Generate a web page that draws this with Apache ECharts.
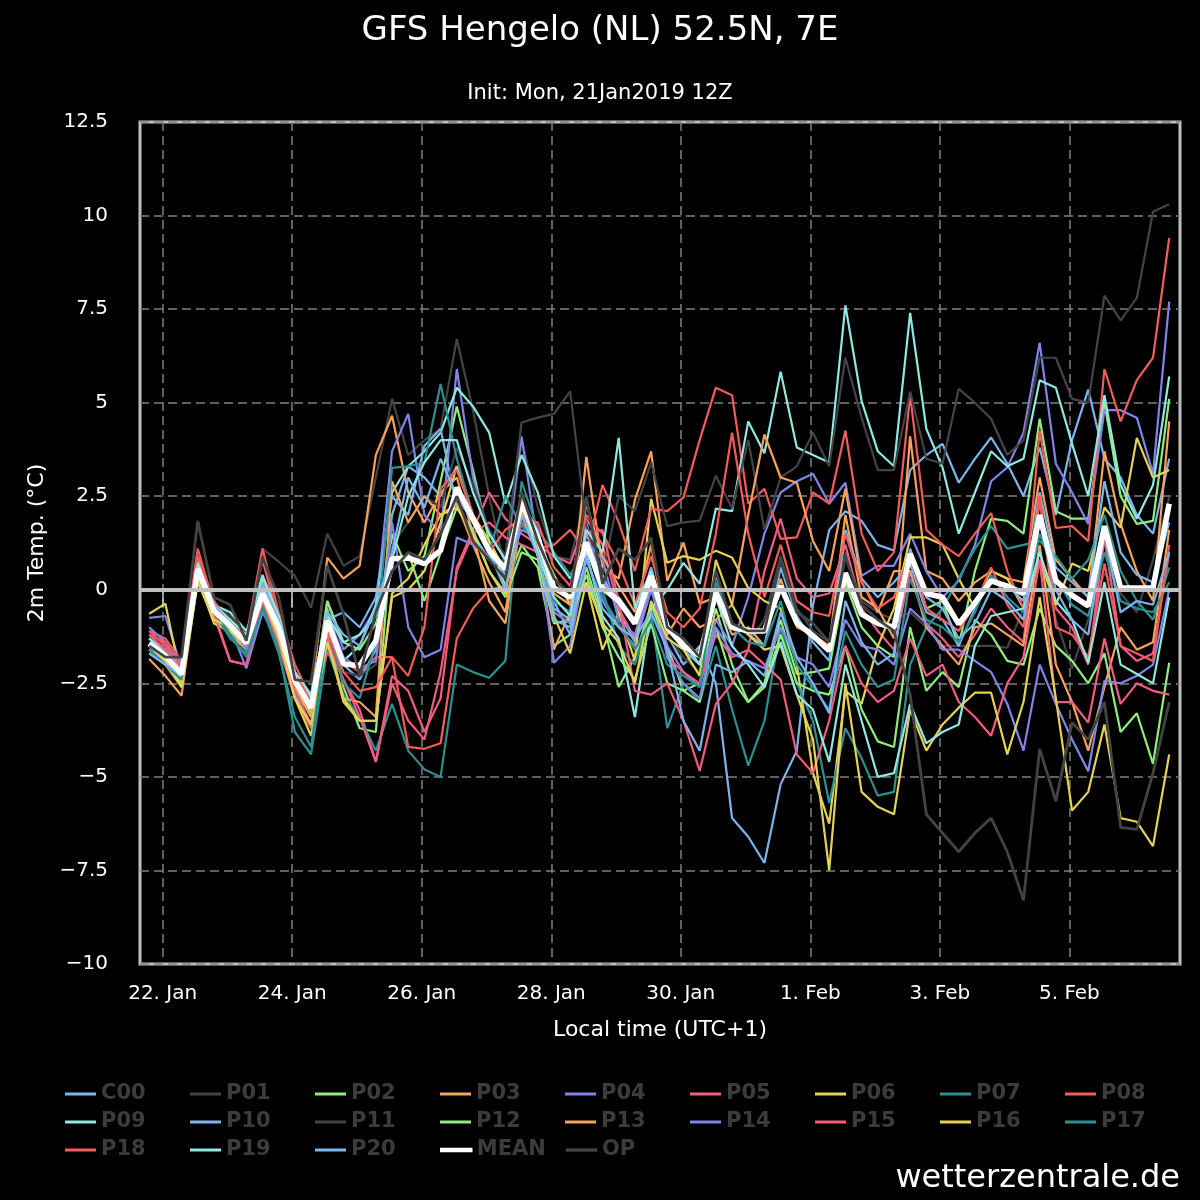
<!DOCTYPE html>
<html><head><meta charset="utf-8">
<script src="https://cdn.jsdelivr.net/npm/echarts@6/dist/echarts.min.js"></script>
<style>html,body{margin:0;background:#000;}#c{width:1200px;height:1200px;}</style>
</head><body><div id="c"></div>
<script>
// time: hours relative to 22 Jan 00:00 local (UTC+1); 6-hourly from 21 Jan 19:00
const startHour = -5;
const stepHours = 6;
const tickHours = [0, 48, 96, 144, 192, 240, 288, 336];
const tickLabels = ['22. Jan', '24. Jan', '26. Jan', '28. Jan', '30. Jan', '1. Feb', '3. Feb', '5. Feb'];

const C00 = [-1.5,-1.9,-2.4,0.4,-0.5,-0.9,-1.3,-0.3,-1.2,-2.8,-3.6,-0.9,-2.0,-2.4,-1.6, 2.0,3.3,3.0,2.5,3.3,2.0,1.0,0.4, 2.2,1.2,-0.5,-0.8,1.5,0.4,-0.6,-1.4,0.2, -1.2,-2.0,-1.5,-2.5,-6.1,-6.6,-7.3,-5.2,-4.3,-0.4,1.6,2.1,1.84,1.2,1.05, 3.2,3.6,3.9,2.86,3.5,4.07,3.37,2.5,3.8,2.0,4.0,5.35,3.5,3.0,2.0,1.5,3.5];
const P01 = [-1.2,-1.6,-2.0,0.9,-0.4,-0.7,-1.2,1.1,0.75,0.37,-0.48,1.5,0.64,0.9,3.0, 5.1,3.6,4.0,4.3,6.7,4.8,2.5,0.5, 4.0,2.2,0.9,0.8,2.5,0.2,1.1,0.8,1.4, -1.2,-1.8,-2.2,0.2,-1.0,-1.4,-0.8,0.9,-0.5,-1.1,-1.4,1.0,-0.3,-0.6,-0.8, -0.6,-1.0,-1.5,-1.5,-1.5,-1.5,-1.55,-0.5,0.7,-0.8,-2.1,-0.8,0.45,-0.1,-0.6,0.8,2.47];
const P02 = [-1.6,-2.0,-2.5,0.5,-0.7,-1.1,-1.6,0.3,-0.9,-2.6,-3.4,-0.5,-2.6,-3.7,-3.8, 1.5,0.5,0.9,2.9,4.9,3.2,1.3,0.1, 1.2,0.6,-1.5,-1.2,0.6,-0.8,-2.6,-1.8,-0.4, -1.5,-2.7,-2.5,-0.5,-2.0,-3.0,-2.5,-0.8,-2.25,-2.2,-2.1,0.2,-1.0,-1.5,-1.8, 1.0,-0.5,-0.3,-1.5,0.5,1.9,1.84,1.5,4.57,2.1,1.9,1.9,5.0,2.5,1.76,1.84,5.1];
const P03 = [-1.85,-2.3,-2.83,0.3,-0.8,-1.2,-1.6,-0.4,-1.3,-2.2,-2.9,0.86,0.3,0.64,3.6, 4.65,2.6,1.8,2.6,3.0,1.5,-0.3,-0.9, 2.0,1.0,-1.6,-0.6,3.55,0.6,0.3,2.4,3.7, 0.24,1.26,-0.37,-0.2,-1.2,-1.0,-1.5,0.3,-1.0,-1.2,-1.5,2.0,-0.2,-0.5,-1.3, 4.1,0.5,0.3,-0.3,0.2,0.5,0.3,0.2,3.0,0.8,0.3,-0.2,3.7,1.76,0.5,-0.3,4.5];
const P04 = [-0.75,-0.7,-2.1,0.5,-0.3,-1.0,-2.1,-0.6,-1.4,-2.8,-3.3,-0.3,-1.6,-1.2,-0.5, 3.7,4.7,2.0,1.5,5.9,3.0,1.5,0.8, 4.1,1.2,-1.95,-1.5,0.8,-0.3,-1.0,-1.5,0.0, -1.5,-2.2,-2.6,-0.8,-1.5,-0.2,1.5,2.6,2.9,3.1,2.3,2.86,0.37,0.64,0.64, 1.5,0.5,-0.2,0.24,1.2,2.9,3.27,4.2,6.6,3.37,2.6,1.76,4.8,4.8,4.6,3.1,7.7];
const P05 = [-1.1,-1.5,-2.0,0.7,-0.7,-1.9,-2.0,-0.2,-1.5,-2.9,-3.7,-1.5,-2.4,-3.2,-4.6, -2.3,-2.7,-3.8,-2.9,0.6,1.6,2.6,1.9, 1.5,1.2,0.9,0.7,1.9,1.2,-0.5,-1.3,0.4, -1.8,-2.2,-2.5,-1.2,-1.8,-1.6,0.5,1.9,0.3,-0.2,-0.1,1.2,-0.5,-1.1,-1.6, 0.5,-0.9,-1.3,-1.8,-1.2,-0.5,-1.0,-1.4,2.4,-0.5,-1.0,-2.0,1.4,-1.5,-1.9,-1.7,1.0];
const P06 = [-0.64,-0.37,-2.43,0.3,-0.9,-1.1,-1.5,-0.2,-1.1,-2.9,-3.9,-1.3,-3.0,-3.5,-3.5, -0.2,0.0,0.5,1.8,3.3,2.0,1.3,0.5, 2.5,1.3,0.4,-0.4,0.2,-1.6,-0.6,-1.9,2.43, 0.72,0.9,0.8,1.04,0.86,0.05,-0.3,-0.5,-2.0,-4.9,-6.25,-2.7,-3.05,-1.5,-0.5, 1.4,1.4,1.2,0.3,-0.5,0.5,0.3,-0.5,0.8,-0.4,0.7,0.5,2.2,1.66,4.06,3.0,3.2];
const P07 = [-1.4,-1.8,-2.3,0.5,-0.6,-1.3,-1.7,-0.4,-1.6,-3.8,-4.4,-1.6,-2.8,-3.4,-4.3, -3.05,-4.3,-4.8,-5.0,-2.0,-2.2,-2.35,-1.9, 2.9,1.6,1.0,0.4,1.1,0.0,-1.5,-2.0,-0.6, -3.7,-2.5,-3.0,-1.5,-3.2,-4.7,-3.5,-1.0,-2.5,-3.5,-5.7,-3.7,-4.5,-5.5,-5.4, -2.0,-1.0,-0.5,0.3,1.1,1.7,1.1,1.2,1.3,0.9,0.3,0.8,2.0,0.5,-0.3,-0.8,0.6];
const P08 = [-1.1,-1.3,-1.9,1.1,-0.4,-0.8,-1.3,1.1,-0.6,-2.0,-2.9,-1.7,-1.9,-2.2,-1.8, -1.8,-4.2,-4.25,-4.1,-1.3,-0.5,0.0,0.1, 1.8,1.1,1.2,1.6,1.0,2.8,1.8,0.5,2.17, 2.1,2.47,4.0,5.4,5.2,2.3,2.7,1.36,1.4,2.6,2.3,4.25,1.5,0.5,1.0, 5.2,1.6,1.2,0.9,1.5,2.05,0.5,-0.5,4.25,1.65,1.7,1.3,5.9,4.5,5.6,6.2,9.4];
const P09 = [-1.3,-1.6,-2.1,0.8,-0.4,-0.6,-1.1,0.0,-0.8,-2.2,-2.9,-0.6,-1.9,-1.5,-0.4, 2.6,3.3,3.7,4.2,5.4,4.9,4.2,2.3, 3.6,2.6,0.9,0.3,1.0,-0.7,-1.3,-3.4,-0.5, 0.0,0.72,0.16,2.17,2.1,4.5,3.65,5.83,3.8,3.6,3.4,7.6,5.05,3.7,3.3, 7.4,4.3,3.27,1.5,2.6,3.7,3.3,3.5,5.6,5.4,3.9,2.5,5.2,2.8,1.9,2.8,5.7];
const P10 = [-1.6,-1.9,-2.2,0.6,-0.5,-0.9,-1.4,0.2,-0.7,-2.4,-3.2,-0.8,-0.6,-1.0,-0.2, 2.5,2.0,3.85,4.3,2.2,1.5,0.8,0.6, 2.3,1.6,-0.3,-1.2,1.8,0.2,-0.2,-0.8,0.6, -1.0,-1.6,-2.0,0.4,-0.9,-1.2,-1.5,0.6,-0.7,-1.4,-1.9,1.6,0.3,-0.2,0.2, 0.7,-0.6,-0.8,-1.5,-0.5,0.3,0.1,-0.3,2.6,0.6,0.2,-0.2,2.9,1.0,0.4,0.2,1.8];
const P11 = [-1.3,-1.7,-2.2,0.6,-0.5,-1.0,-1.5,-0.1,-1.1,-2.5,-3.1,-1.0,-2.2,-2.3,-2.0, 1.2,1.8,2.5,2.2,3.8,2.8,1.6,0.9, 4.47,4.6,4.7,5.3,1.7,0.4,2.5,2.1,3.4, 1.7,1.8,1.85,3.05,2.17,4.0,1.6,3.0,3.3,4.2,3.3,6.2,4.6,3.2,3.2, 5.3,3.5,3.37,5.37,5.0,4.57,3.6,4.0,6.2,6.2,5.1,5.0,7.86,7.2,7.8,10.1,10.3];
const P12 = [-1.5,-1.8,-2.4,0.4,-0.6,-0.9,-1.3,-0.2,-1.0,-2.5,-3.3,-0.3,-1.4,-1.6,-0.9, 0.5,1.0,-0.3,1.0,2.2,1.6,0.5,-0.2, 1.0,0.8,-0.9,-0.8,0.4,-1.0,-1.8,-2.4,-0.9, -2.5,-2.7,-3.0,-1.0,-2.4,-3.0,-2.6,-1.2,-2.5,-2.7,-2.8,-1.5,-3.2,-4.05,-4.2, -1.0,-2.7,-2.2,-2.6,-0.8,-1.2,-1.9,-2.0,-0.5,-1.5,-1.9,-2.5,-1.7,-3.8,-3.3,-4.65,-1.95];
const P13 = [-1.7,-2.0,-2.6,0.3,-0.6,-1.0,-1.5,-0.3,-1.1,-2.6,-3.4,-1.2,-2.9,-3.0,-3.4, 2.9,1.8,2.5,2.0,2.3,1.2,0.2,-0.6, 2.1,1.3,-0.1,-0.4,2.3,0.9,0.1,-0.6,1.2, -1.2,-0.5,-1.0,-0.8,-0.4,2.0,4.15,3.0,2.86,1.3,0.5,2.7,0.2,-0.6,0.5, 0.5,-1.0,-1.5,-2.0,-1.0,-0.9,-1.2,-1.5,1.2,-2.0,-3.0,-4.3,-2.6,-1.0,-1.6,-1.4,1.6];
const P14 = [-1.0,-1.4,-2.0,0.6,-0.5,-0.8,-1.6,0.1,-0.9,-2.3,-3.0,-0.6,-1.8,-2.1,-1.9, 1.8,-1.0,-1.8,-1.6,1.4,1.2,0.9,0.5, 1.6,1.4,-0.6,-0.9,1.3,0.8,-0.8,-1.2,0.3, -1.8,-2.5,-2.9,-1.0,-1.7,-1.9,-2.1,-1.0,-1.8,-2.0,-2.6,-0.8,-1.5,-1.6,-2.0, -0.5,-0.9,-1.6,-1.6,-1.9,-2.2,-3.05,-4.3,-2.0,-3.05,-4.0,-4.85,-2.43,-2.5,-2.3,-2.0,0.0];
const P15 = [-1.2,-1.6,-2.2,0.5,-0.6,-1.9,-2.0,-0.3,-1.4,-2.7,-3.6,-1.3,-2.4,-3.4,-4.6, -2.5,-3.5,-4.0,-2.2,0.5,1.5,1.8,1.4, 1.2,1.0,0.3,-0.2,1.5,1.6,-0.3,-2.7,-2.8, -2.5,-3.5,-4.84,-3.05,-2.5,-1.6,-2.0,-2.4,-4.4,-4.9,-3.5,-1.5,-2.5,-3.0,-2.7, -1.3,-2.3,-2.0,-3.0,-3.4,-3.9,-2.5,-1.8,0.8,-3.0,-3.0,-3.55,-1.3,-3.05,-2.5,-2.7,-2.8];
const P16 = [-1.5,-1.9,-2.6,0.2,-0.8,-1.0,-1.4,-0.2,-1.3,-2.9,-3.6,-1.4,-2.9,-3.5,-3.5, -0.1,0.3,1.2,2.0,2.2,1.5,0.5,-0.1, 2.4,0.9,-0.7,-1.7,0.2,-0.9,-1.4,-2.5,-0.3, -1.3,-1.6,-2.3,0.8,-0.4,-1.2,-1.6,-1.5,-2.8,-4.0,-7.5,-2.5,-5.4,-5.8,-6.0, -3.2,-4.3,-3.6,-3.15,-2.75,-2.75,-4.4,-3.0,-0.2,-2.9,-5.9,-5.4,-3.6,-6.1,-6.2,-6.85,-4.4];
const P17 = [-1.6,-2.0,-2.4,0.5,-0.5,-1.2,-1.8,-0.5,-1.7,-3.4,-4.2,-1.0,-2.5,-2.9,-1.4, 3.26,3.3,3.4,5.5,3.5,2.0,1.0,2.5, 1.7,1.3,-0.3,-0.6,1.2,-0.2,-0.9,-1.6,-0.8, -2.0,-2.3,-2.6,0.2,-1.0,-1.4,-1.5,-0.3,-2.0,-2.6,-3.2,-1.1,-2.0,-2.6,-2.4, 0.3,-0.8,-1.0,-1.4,-0.6,0.4,-0.2,-0.6,1.5,0.3,-0.4,-0.7,1.0,-0.3,-0.5,-0.6,0.2];
const P18 = [-1.2,-1.4,-2.1,0.9,-0.3,-0.9,-1.3,0.8,-0.8,-2.2,-3.0,-1.1,-2.2,-2.7,-2.6, -1.8,-2.3,-1.0,2.7,3.2,2.0,1.0,1.6, 1.9,1.8,0.6,0.1,2.0,1.5,0.7,-0.4,0.9, -0.6,-1.0,-0.5,1.5,4.2,1.5,-0.2,1.2,-0.3,-0.6,-0.7,1.5,0.2,-0.5,-0.2, 1.0,-0.5,-0.8,-1.1,-0.4,0.6,-0.4,-1.0,2.5,-1.0,-1.2,-1.8,0.7,-1.5,-1.7,-1.9,1.2];
const P19 = [-1.3,-1.7,-2.2,0.7,-0.4,-0.8,-1.2,0.4,-0.7,-2.2,-2.8,-0.7,-1.4,-1.2,-0.7, 0.8,2.5,3.4,4.0,4.0,2.6,1.5,0.8, 2.3,1.0,-0.2,-0.7,1.6,1.0,4.06,-0.5,0.5, -1.0,-1.4,-2.0,-0.2,-1.5,-2.0,-2.6,-1.4,-2.8,-3.2,-4.6,-2.0,-3.5,-5.0,-4.9, -3.05,-4.1,-3.8,-3.6,-1.5,-0.7,-0.6,-0.5,1.0,-0.3,-0.8,-1.95,0.2,-2.0,-2.25,-2.5,-0.2];
const P20 = [-1.7,-2.0,-2.3,0.5,-0.4,-0.9,-1.4,0.1,-0.8,-2.4,-3.2,-0.6,-1.2,-1.5,-0.5, 1.0,3.0,2.2,3.5,2.5,1.8,1.0,0.0, 2.0,0.9,-0.8,-1.0,0.9,-0.5,-1.0,-1.3,-0.6, -1.6,-3.5,-4.3,-2.0,-2.2,-1.9,-2.3,-0.6,-1.8,-2.5,-3.3,-0.3,-1.4,-2.0,-1.7, 1.1,-0.2,-0.5,-1.3,-0.9,0.0,-0.3,-0.8,1.8,0.0,-0.8,-1.2,1.5,-0.6,-0.3,-0.4,1.0];
const MEAN = [-1.44,-1.77,-2.25,0.56,-0.56,-0.96,-1.42,-0.1,-1.0,-2.43,-3.15,-0.83,-1.98,-2.03,-1.36, 0.83,0.85,0.7,1.05,2.73,1.9,1.04,0.56, 2.33,1.4,0.05,-0.2,1.26,0.05,-0.3,-0.9,0.37, -1.0,-1.5,-1.77,-0.08,-1.0,-1.1,-1.1,0.1,-0.88,-1.23,-1.63,0.45,-0.65,-0.9,-1.0, 0.96,-0.1,-0.2,-0.92,-0.35,0.24,0.1,-0.1,2.0,0.24,-0.15,-0.43,1.7,0.05,0.05,0.05,2.3];
const OP = [-1.5,-1.8,-1.8,1.84,-0.2,-0.4,-1.36,0.86,-0.2,-2.4,-2.46,0.64,-0.65,-2.3,-0.6, 0.5,1.0,0.8,1.5,2.5,1.3,0.8,0.3, 2.6,1.3,0.3,-0.1,2.46,0.16,1.1,0.8,1.36, -1.0,-1.3,-1.8,0.5,-0.9,-1.1,-1.1,0.8,-0.6,-0.9,-1.4,0.9,-0.4,-0.8,-1.1, -2.8,-6.0,-6.5,-7.0,-6.5,-6.1,-7.0,-8.3,-4.25,-5.65,-3.55,-4.0,-3.0,-6.35,-6.4,-4.9,-3.0];

const memberNames = ['C00','P01','P02','P03','P04','P05','P06','P07','P08','P09','P10','P11','P12','P13','P14','P15','P16','P17','P18','P19','P20'];
const memberData = [C00,P01,P02,P03,P04,P05,P06,P07,P08,P09,P10,P11,P12,P13,P14,P15,P16,P17,P18,P19,P20];
const palette = ['#7cb5ec','#434348','#90ed7d','#f7a35c','#8085e9','#f15c80','#e4d354','#2b908f','#f45b5b','#91e8e1'];

const FONT = 'DejaVu Sans';
function pairs(arr) { return arr.map((v, i) => [startHour + stepHours * i, v]); }

const series = memberNames.map((name, k) => {
  const s = {
    name, type: 'line', data: pairs(memberData[k]),
    symbol: 'none', showSymbol: false,
    lineStyle: { width: 2.2, color: palette[k % 10] },
    itemStyle: { color: palette[k % 10] },
    emphasis: { disabled: true }, silent: true, z: 2
  };
  if (k === 0) {
    s.markLine = { silent: true, symbol: 'none', label: { show: false },
      lineStyle: { color: '#c0c0c0', width: 4, type: 'solid' }, data: [{ yAxis: 0 }] };
  }
  return s;
});
series.push({ name: 'MEAN', type: 'line', data: pairs(MEAN), symbol: 'none', showSymbol: false,
  lineStyle: { width: 5.5, color: '#ffffff' }, itemStyle: { color: '#ffffff' }, emphasis: { disabled: true }, silent: true, z: 3 });
series.push({ name: 'OP', type: 'line', data: pairs(OP), symbol: 'none', showSymbol: false,
  lineStyle: { width: 2.8, color: '#434343' }, itemStyle: { color: '#434343' }, emphasis: { disabled: true }, silent: true, z: 3 });

const legendData = memberNames.map(n => ({ name: n }));
legendData.push({ name: 'MEAN', itemStyle: { color: '#ffffff', borderColor: '#ffffff', borderWidth: 1.5 } });
legendData.push({ name: 'OP', itemStyle: { color: '#434343', borderColor: '#434343', borderWidth: 0.4 } });

const chart = echarts.init(document.getElementById('c'), null, { renderer: 'canvas' });
chart.setOption({
  backgroundColor: '#000000',
  animation: false,
  title: [
    { text: 'GFS Hengelo (NL) 52.5N, 7E', left: 'center', top: 9,
      textStyle: { color: '#ffffff', fontSize: 34, fontWeight: 'normal', fontFamily: FONT } },
    { text: 'Init: Mon, 21Jan2019 12Z', left: 'center', top: 78,
      textStyle: { color: '#ffffff', fontSize: 21, fontWeight: 'normal', fontFamily: FONT } }
  ],
  legend: {
    data: legendData, top: 1078, left: 60, width: 1130,
    icon: 'rect', itemWidth: 31, itemHeight: 3, itemGap: 6, selectedMode: false,
    textStyle: { color: '#3c3c3c', fontSize: 21, fontWeight: 'bold', fontFamily: FONT,
      width: 83, padding: [0, 0, 0, 0], lineHeight: 22 }
  },
  grid: { left: 140, right: 20, top: 122, bottom: 236, show: true,
    borderColor: '#c0c0c0', borderWidth: 3, backgroundColor: 'transparent' },
  xAxis: {
    type: 'value', min: -8.4, max: 377,
    name: 'Local time (UTC+1)', nameLocation: 'middle', nameGap: 55,
    nameTextStyle: { color: '#ffffff', fontSize: 22, fontFamily: FONT },
    axisLine: { show: false },
    axisTick: { show: true, customValues: tickHours, length: 18, lineStyle: { color: '#c0d0e0', width: 1.5 } },
    axisLabel: { customValues: tickHours, color: '#ffffff', fontSize: 20, fontFamily: FONT, margin: 20,
      formatter: v => { const i = tickHours.indexOf(v); return i >= 0 ? tickLabels[i] : ''; } },
    splitLine: { show: true, lineStyle: { color: '#808080', width: 1.5, type: [9, 5] } }
  },
  yAxis: {
    type: 'value', min: -10, max: 12.5, interval: 2.5,
    name: '2m Temp. (°C)', nameLocation: 'middle', nameGap: 88,
    nameTextStyle: { color: '#ffffff', fontSize: 22, fontFamily: FONT },
    axisLine: { show: false }, axisTick: { show: false },
    axisLabel: { color: '#ffffff', fontSize: 20, fontFamily: FONT, margin: 32,
      formatter: v => (v < 0 ? '\u2212' + Math.abs(v) : String(v)) },
    splitLine: { show: true, lineStyle: { color: '#808080', width: 1.5, type: [9, 5] } }
  },
  graphic: [
    { type: 'text', right: 20, top: 1163, silent: true,
      style: { text: 'wetterzentrale.de', fill: '#ffffff', font: '32px "DejaVu Sans"' } }
  ],
  series
});
</script>
</body></html>
